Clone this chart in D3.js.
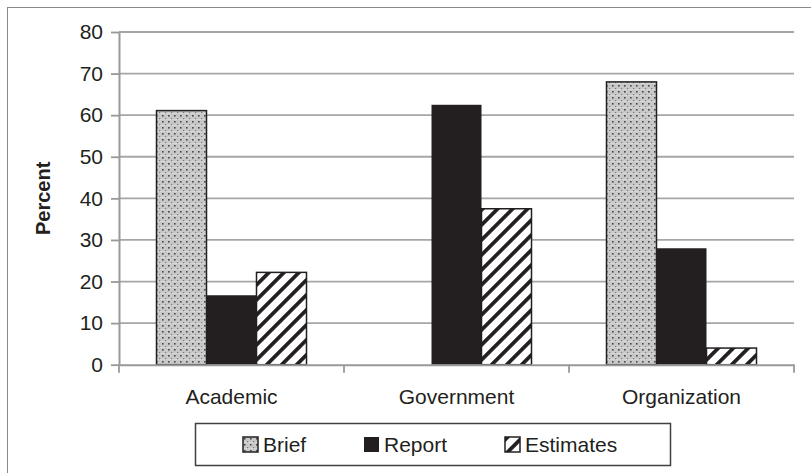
<!DOCTYPE html>
<html>
<head>
<meta charset="utf-8">
<script src="https://cdn.jsdelivr.net/npm/d3@7"></script>
<style>
  html, body { margin: 0; padding: 0; background: #fff; }
  svg { display: block; }
  text { font-family: "Liberation Sans", Arial, sans-serif; fill: #231f20; }
</style>
</head>
<body>
<svg id="chart" width="811" height="473"></svg>
<script>
// Share of items by type, per source
const categories = ["Academic", "Government", "Organization"];
const seriesNames = ["Brief", "Report", "Estimates"];
const brief = [61.1, 0, 68];
const report = [16.7, 62.5, 28];
const estimates = [22.2, 37.5, 4];
const yTicks = [0, 10, 20, 30, 40, 50, 60, 70, 80];
const yTitle = "Percent";

const seriesValues = [brief, report, estimates];

const svg = d3.select("#chart");
const W = 811, H = 473;
const plot = { left: 119, right: 794, top: 32, bottom: 364.7 };

// Pattern fills
const defs = svg.append("defs");
const dots = defs.append("pattern")
  .attr("id", "pat-brief")
  .attr("patternUnits", "userSpaceOnUse")
  .attr("width", 6).attr("height", 6);
dots.append("rect").attr("width", 6).attr("height", 6).attr("fill", "#c8c8c8");
dots.append("rect").attr("x", 0).attr("y", 5.4).attr("width", 6).attr("height", 0.6).attr("fill", "#e2e2e2");
dots.append("rect").attr("x", 1).attr("y", 1).attr("width", 1.6).attr("height", 1.6).attr("fill", "#4a4a4a");
dots.append("rect").attr("x", 4).attr("y", 4).attr("width", 1.2).attr("height", 1.2).attr("fill", "#7a7a7a");

const stripes = defs.append("pattern")
  .attr("id", "pat-estimates")
  .attr("patternUnits", "userSpaceOnUse")
  .attr("width", 10.6).attr("height", 10.6)
  .attr("patternTransform", "rotate(45)");
stripes.append("rect").attr("width", 10.6).attr("height", 10.6).attr("fill", "#fff");
stripes.append("rect").attr("width", 3.8).attr("height", 10.6).attr("fill", "#231f20");

const fills = { Brief: "url(#pat-brief)", Report: "#231f20", Estimates: "url(#pat-estimates)" };

// Outer frame (left and top edges fall inside the view)
svg.append("rect")
  .attr("x", 7.5).attr("y", 7.5)
  .attr("width", W + 20).attr("height", H + 20)
  .attr("fill", "none").attr("stroke", "#8a8a8a").attr("stroke-width", 1);

// Scales
const y = d3.scaleLinear().domain([0, 80]).range([plot.bottom, plot.top]);
const x0 = d3.scaleBand().domain(categories).range([plot.left, plot.right]).paddingInner(0).paddingOuter(0);
const x1 = d3.scaleBand().domain(seriesNames).range([0, x0.bandwidth()]).paddingInner(0).paddingOuter(0.75);

// Gridlines
svg.append("g")
  .selectAll("line")
  .data(yTicks.filter(d => d > 0))
  .join("line")
  .attr("x1", plot.left).attr("x2", plot.right)
  .attr("y1", d => y(d)).attr("y2", d => y(d))
  .attr("stroke", "#a6a6a6").attr("stroke-width", 1.8);

// Bars
const groups = svg.append("g")
  .selectAll("g")
  .data(categories)
  .join("g")
  .attr("transform", d => `translate(${x0(d)},0)`);

groups.selectAll("rect")
  .data((c, i) => seriesNames.map((s, k) => ({ s, v: seriesValues[k][i] })).filter(d => d.v > 0))
  .join("rect")
  .attr("x", d => x1(d.s))
  .attr("width", x1.bandwidth())
  .attr("y", d => y(d.v))
  .attr("height", d => y(0) - y(d.v))
  .attr("fill", d => fills[d.s])
  .attr("stroke", d => d.s === "Report" ? "none" : "#231f20")
  .attr("stroke-width", 1.5);

// Y axis
const yAxis = svg.append("g")
  .attr("transform", `translate(${plot.left},0)`)
  .call(d3.axisLeft(y).tickValues(yTicks).tickSize(8).tickPadding(8).tickSizeOuter(0));
yAxis.select(".domain").attr("stroke", "#999").attr("stroke-width", 2);
yAxis.selectAll(".tick line").attr("stroke", "#999").attr("stroke-width", 1.8);
yAxis.selectAll(".tick text")
  .attr("font-size", 21).attr("font-family", "Liberation Sans, Arial, sans-serif")
  .attr("fill", "#231f20");

// X axis
const xAxis = svg.append("g")
  .attr("transform", `translate(0,${plot.bottom})`)
  .call(d3.axisBottom(x0).tickSize(0).tickPadding(24).tickSizeOuter(0));
xAxis.select(".domain").attr("stroke", "#999").attr("stroke-width", 2);
xAxis.selectAll(".tick text")
  .attr("font-size", 21).attr("font-family", "Liberation Sans, Arial, sans-serif")
  .attr("fill", "#231f20");
// Category boundary ticks
xAxis.append("g")
  .selectAll("line")
  .data(categories.map(c => x0(c)).concat([plot.right]))
  .join("line")
  .attr("x1", d => d).attr("x2", d => d)
  .attr("y1", 0).attr("y2", 8)
  .attr("stroke", "#999").attr("stroke-width", 1.8);

// Y title
svg.append("text")
  .attr("transform", `translate(50,${(plot.top + plot.bottom) / 2}) rotate(-90)`)
  .attr("text-anchor", "middle")
  .attr("font-size", 20).attr("font-weight", "bold")
  .text(yTitle);

// Legend
const legend = svg.append("g");
legend.append("rect")
  .attr("x", 195.5).attr("y", 423.5).attr("width", 475).attr("height", 42)
  .attr("fill", "#fff").attr("stroke", "#404040").attr("stroke-width", 1.5);
const legendX = [243, 364, 505];
const items = legend.selectAll("g")
  .data(seriesNames)
  .join("g")
  .attr("transform", (d, i) => `translate(${legendX[i]},437)`);
items.append("rect")
  .attr("width", 15).attr("height", 15)
  .attr("fill", d => fills[d])
  .attr("stroke", d => d === "Report" ? "none" : "#231f20")
  .attr("stroke-width", 1.5);
items.append("text")
  .attr("x", 20).attr("y", 15)
  .attr("font-size", 21)
  .text(d => d);
</script>
</body>
</html>
